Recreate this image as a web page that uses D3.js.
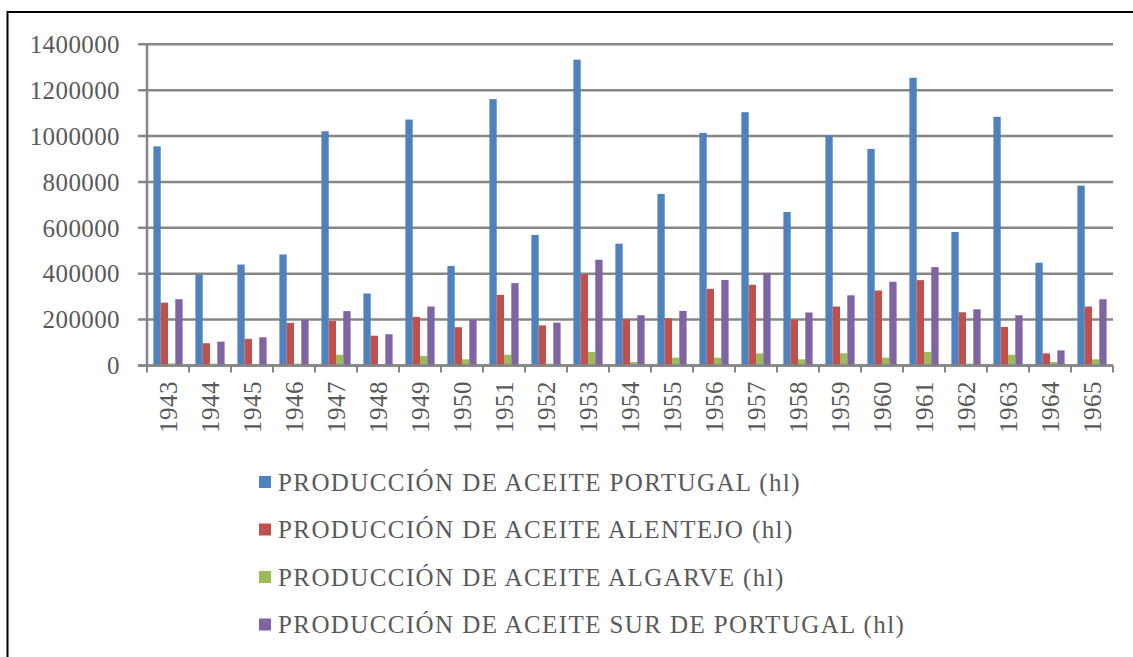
<!DOCTYPE html>
<html>
<head>
<meta charset="utf-8">
<script src="https://cdn.jsdelivr.net/npm/d3@7"></script>
<style>
  body { margin: 0; background: #fff; }
  svg text { font-family: "Liberation Serif", "Times New Roman", serif; fill: #595959; }
</style>
</head>
<body>
<div id="chart"></div>
<script>
// years on the x axis
let years = ['1943','1944','1945','1946','1947','1948','1949','1950','1951','1952','1953',
             '1954','1955','1956','1957','1958','1959','1960','1961','1962','1963','1964','1965'];

// values in hl
let portugal  = [955000, 395000, 440000, 484000, 1021000, 314000, 1072000, 434000, 1161000, 569000, 1333000,
                 531000, 748000, 1014000, 1104000, 669000, 1002000, 944000, 1254000, 582000, 1084000, 448000, 784000];
let alentejo  = [274000, 97000, 116000, 186000, 194000, 130000, 212000, 167000, 308000, 175000, 398000,
                 202000, 206000, 334000, 352000, 199000, 257000, 327000, 372000, 232000, 168000, 53000, 257000];
let algarve   = [9000, 8000, 3000, 8000, 47000, 3000, 42000, 27000, 47000, 8000, 59000,
                 15000, 34000, 34000, 53000, 27000, 53000, 34000, 59000, 8000, 47000, 15000, 27000];
let surPortugal = [289000, 104000, 123000, 199000, 237000, 136000, 257000, 199000, 359000, 187000, 461000,
                   219000, 238000, 373000, 403000, 231000, 306000, 365000, 429000, 245000, 219000, 66000, 289000];

let seriesNames = ['PRODUCCIÓN DE ACEITE PORTUGAL (hl)', 'PRODUCCIÓN DE ACEITE ALENTEJO (hl)',
                   'PRODUCCIÓN DE ACEITE ALGARVE (hl)', 'PRODUCCIÓN DE ACEITE SUR DE PORTUGAL (hl)'];
let seriesValues = [portugal, alentejo, algarve, surPortugal];
let colors = ['#4F81BD', '#C0504D', '#9BBB59', '#8064A2'];
let yTicks = [0, 200000, 400000, 600000, 800000, 1000000, 1200000, 1400000];

let width = 1133;
let height = 657;
let plotLeft = 147, plotRight = 1113, plotTop = 44.3, plotBottom = 365.5;
let gridColor = '#868686';

let svg = d3.select('#chart')
  .append('svg')
  .attr('width', width)
  .attr('height', height);

// outer frame (right and bottom edges fall outside the picture)
svg.append('rect')
  .attr('x', 7.5).attr('y', 12)
  .attr('width', 1140).attr('height', 660)
  .attr('fill', 'none')
  .attr('stroke', '#000')
  .attr('stroke-width', 2);

let x = d3.scaleBand()
  .domain(years)
  .range([plotLeft, plotRight])
  .paddingInner(0.305)
  .paddingOuter(0.1525);

let xInner = d3.scaleBand()
  .domain(d3.range(seriesNames.length))
  .range([0, x.bandwidth()]);

let y = d3.scaleLinear()
  .domain([0, 1400000])
  .range([plotBottom, plotTop]);

// gridlines
svg.selectAll('.grid')
  .data(yTicks)
  .enter()
  .append('line')
  .attr('x1', plotLeft - 9)
  .attr('x2', plotRight)
  .attr('y1', d => y(d))
  .attr('y2', d => y(d))
  .attr('stroke', gridColor)
  .attr('stroke-width', 2.5);

// y tick labels
svg.selectAll('.ylab')
  .data(yTicks)
  .enter()
  .append('text')
  .attr('x', 120)
  .attr('y', d => y(d))
  .attr('dy', '0.35em')
  .attr('text-anchor', 'end')
  .style('font-size', '25px')
  .style('letter-spacing', '0.4px')
  .text(d => d);

// bars
let rows = years.map((yr, i) => ({ year: yr, vals: seriesValues.map(s => s[i]) }));

let groups = svg.selectAll('.year')
  .data(rows)
  .enter()
  .append('g')
  .attr('transform', d => 'translate(' + x(d.year) + ',0)');

groups.selectAll('rect')
  .data(d => d.vals)
  .enter()
  .append('rect')
  .attr('x', (d, i) => xInner(i))
  .attr('y', d => y(d))
  .attr('width', xInner.bandwidth())
  .attr('height', d => y(0) - y(d))
  .attr('fill', (d, i) => colors[i]);

// y axis line
svg.append('line')
  .attr('x1', plotLeft).attr('x2', plotLeft)
  .attr('y1', plotTop).attr('y2', plotBottom)
  .attr('stroke', gridColor)
  .attr('stroke-width', 2.5);

// x axis line and tick marks at band edges
svg.append('line')
  .attr('x1', plotLeft - 9).attr('x2', plotRight)
  .attr('y1', plotBottom).attr('y2', plotBottom)
  .attr('stroke', gridColor)
  .attr('stroke-width', 2.5);

let step = x.step();
svg.selectAll('.xtick')
  .data(d3.range(years.length + 1))
  .enter()
  .append('line')
  .attr('x1', i => plotLeft + i * step)
  .attr('x2', i => plotLeft + i * step)
  .attr('y1', plotBottom)
  .attr('y2', plotBottom + 7)
  .attr('stroke', gridColor)
  .attr('stroke-width', 2);

// year labels, rotated
svg.selectAll('.xlab')
  .data(years)
  .enter()
  .append('text')
  .attr('transform', d => 'translate(' + (x(d) + x.bandwidth() / 2) + ',381) rotate(-90)')
  .attr('dy', '0.35em')
  .attr('text-anchor', 'end')
  .style('font-size', '25px')
  .style('letter-spacing', '0.5px')
  .text(d => d);

// legend
let legend = svg.selectAll('.legend')
  .data(seriesNames)
  .enter()
  .append('g')
  .attr('transform', (d, i) => 'translate(259,' + (482 + i * 47.5) + ')');

legend.append('rect')
  .attr('x', 0)
  .attr('y', -6)
  .attr('width', 12)
  .attr('height', 12)
  .attr('fill', (d, i) => colors[i]);

legend.append('text')
  .attr('x', 19)
  .attr('y', 0)
  .attr('dy', '0.35em')
  .style('font-size', '25px')
  .style('letter-spacing', '1.4px')
  .text(d => d);
</script>
</body>
</html>
